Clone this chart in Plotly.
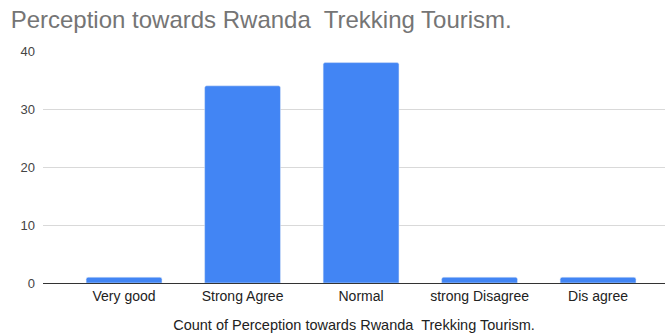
import plotly.graph_objects as go

categories = ["Very good", "Strong Agree", "Normal", "strong Disagree", "Dis agree"]
counts = [1, 34, 38, 1, 1]
y_ticks = [0, 10, 20, 30, 40]

fig = go.Figure(go.Bar(
    x=categories, y=counts, marker_color="#4285F4", width=0.64,
))
fig.update_layout(
    width=665, height=333,
    margin=dict(l=43, r=0, t=51, b=50),
    paper_bgcolor="white", plot_bgcolor="white",
    font=dict(family="Liberation Sans, Arial", color="#222222", size=13),
    barcornerradius=2,
    title=dict(text="Perception towards Rwanda  Trekking Tourism.",
               x=0.016, xanchor="left", y=0.94, yanchor="middle",
               font=dict(size=24, color="#757575")),
    showlegend=False,
)
fig.update_xaxes(
    range=[-0.684, 4.565], showgrid=False, ticks="", showline=False,
    tickfont=dict(size=14, color="#222222"), ticklabelstandoff=3,
    title=dict(text="Count of Perception towards Rwanda  Trekking Tourism.",
               font=dict(size=14.5, color="#222222"), standoff=17),
)
fig.update_yaxes(
    range=[0, 40], tickvals=y_ticks, showgrid=True, gridcolor="#d9d9d9",
    zeroline=True, zerolinecolor="#333333", zerolinewidth=1,
    tickfont=dict(size=13, color="#444444"), ticks="", ticklabelstandoff=7,
)
fig.write_html("out.html")
